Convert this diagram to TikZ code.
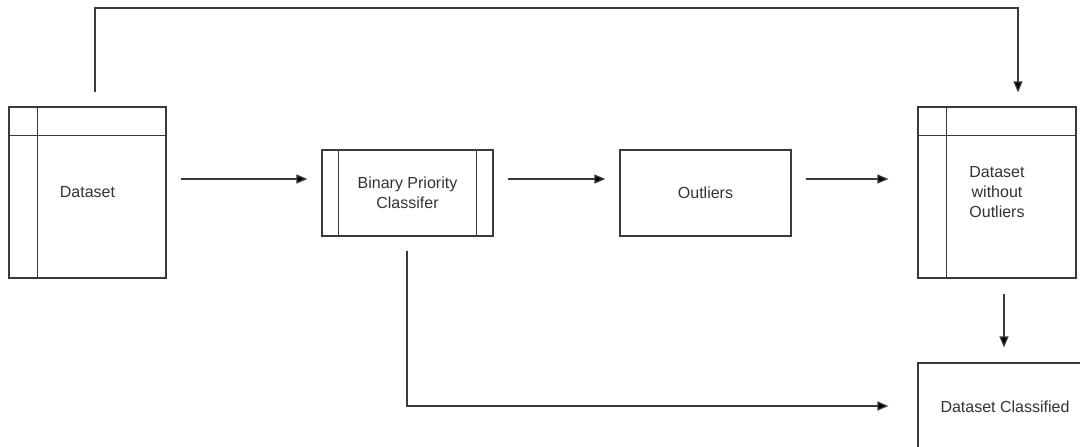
\documentclass[tikz,border=0pt]{standalone}
\usepackage{fontspec}
\setmainfont{Liberation Sans}
\usetikzlibrary{arrows.meta,calc}
\definecolor{edge}{HTML}{3A3A3A}
\definecolor{ink}{HTML}{333333}
\tikzset{
  box/.style={draw=edge, line width=1.3pt, fill=white, inner sep=2pt,
              text=ink, font=\fontsize{16}{20}\selectfont, align=center},
  conn/.style={draw=edge, line width=1.3pt,
               -{Triangle[length=11pt,width=9pt,fill=black]}},
  rule/.style={draw=edge, line width=1.3pt},
}
\begin{document}
\begin{tikzpicture}[x=1pt,y=-1pt]
  \useasboundingbox (0,0) rectangle (1080,447);
  \clip (0,0) rectangle (1080,447);

  % nodes
  \node[box, minimum width=157pt, minimum height=171pt] (ds)  at (87.5,192.5) {Dataset};
  \node[box, minimum width=171pt, minimum height=86pt]  (bpc) at (407.5,193) {Binary Priority\\Classifer};
  \node[box, minimum width=171pt, minimum height=86pt]  (out) at (705.5,193) {Outliers};
  \node[box, minimum width=158pt, minimum height=171pt] (dwo) at (997,192.5) {Dataset\\without\\Outliers};
  \node[box, minimum width=174pt, minimum height=88pt]  (dc)  at (1005,407) {Dataset Classified};

  % table headers on the dataset boxes
  \draw[rule] ([xshift=29pt]ds.north west) -- ([xshift=29pt]ds.south west);
  \draw[rule] ([yshift=-29pt]ds.north west) -- ([yshift=-29pt]ds.north east);
  \draw[rule] ([xshift=29pt]dwo.north west) -- ([xshift=29pt]dwo.south west);
  \draw[rule] ([yshift=-29pt]dwo.north west) -- ([yshift=-29pt]dwo.north east);

  % side bars of the classifier (predefined process)
  \draw[rule] ([xshift=17pt]bpc.north west) -- ([xshift=17pt]bpc.south west);
  \draw[rule] ([xshift=-17pt]bpc.north east) -- ([xshift=-17pt]bpc.south east);

  % connectors
  \draw[conn] ([xshift=14pt]ds.east |- 0,179) -- ([xshift=-14pt]bpc.west |- 0,179);
  \draw[conn] ([xshift=14pt]bpc.east |- 0,179) -- ([xshift=-14pt]out.west |- 0,179);
  \draw[conn] ([xshift=14pt]out.east |- 0,179) -- ([xshift=-29pt]dwo.west |- 0,179);
  \draw[conn] ([yshift=-15pt]dwo.south -| 1004,0) -- ([yshift=15pt]dc.north -| 1004,0);
  \draw[conn] ([yshift=-14pt]bpc.south -| 407,0) -- (407,406) -- ([xshift=-29pt]dc.west |- 0,406);
  \draw[conn] ([yshift=14pt]ds.north -| 95,0) -- (95,8) -- (1018,8) -- ([yshift=14pt]dwo.north -| 1018,0);
\end{tikzpicture}
\end{document}
